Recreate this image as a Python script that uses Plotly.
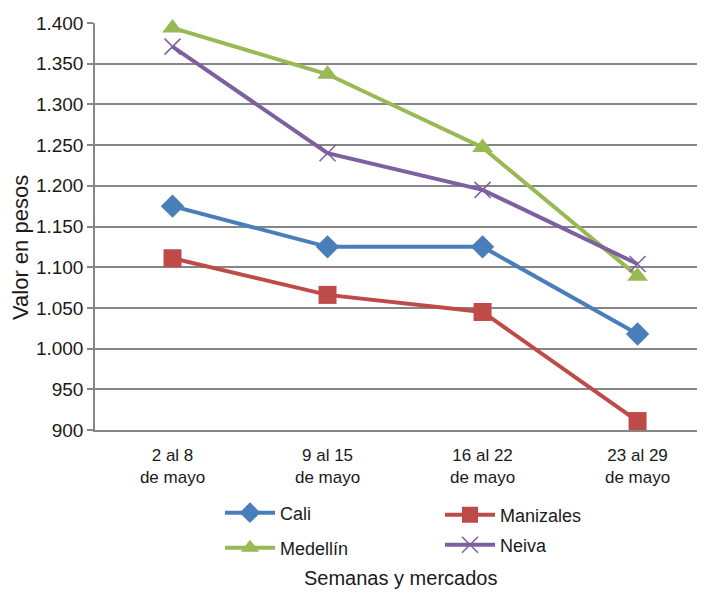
import plotly.graph_objects as go

categories = ["2 al 8<br>de mayo", "9 al 15<br>de mayo", "16 al 22<br>de mayo", "23 al 29<br>de mayo"]
cali = [1175, 1125, 1125, 1018]
manizales = [1111, 1066, 1045, 911]
medellin = [1394, 1337, 1247, 1089]
neiva = [1371, 1240, 1195, 1104]
y_ticks = [900, 950, 1000, 1050, 1100, 1150, 1200, 1250, 1300, 1350, 1400]

FONT = "Liberation Sans, Arial, sans-serif"
OFF = 8  # page body margin
W, H = 705 - OFF, 593 - OFF
L, R, T = 95 - OFF, 0, 23 - OFF
B = H - (430 - OFF)
pw = W - L - R
ph = H - T - B

def px_x(p):
    return (p - OFF - L) / pw

def px_y(p):
    return (H - B - (p - OFF)) / ph

fig = go.Figure()
series = [
    ("Cali", cali, "#4A7EBB", "diamond", 18, "legend", 220, 513),
    ("Manizales", manizales, "#BE4B48", "square", 18, "legend2", 440, 515),
    ("Medellín", medellin, "#98B954", "triangle-up", 18, "legend3", 220, 548),
    ("Neiva", neiva, "#7D60A0", "x-thin", 16, "legend4", 440, 545),
]
legends = {}
for name, vals, col, sym, sz, lg, lx, ly in series:
    marker = dict(symbol=sym, size=sz, color=col)
    if sym == "x-thin":
        marker["line"] = dict(color=col, width=1.5)
    fig.add_trace(go.Scatter(
        x=categories, y=vals, name=name, mode="lines+markers",
        line=dict(color=col, width=4), marker=marker,
        cliponaxis=False, legend=lg,
    ))
    legends[lg] = dict(x=px_x(lx), y=px_y(ly), xanchor="left", yanchor="middle",
                       font=dict(size=18), bgcolor="rgba(0,0,0,0)", itemwidth=50)

fig.update_layout(
    width=W, height=H,
    margin=dict(l=L, r=R, t=T, b=B, autoexpand=False),
    paper_bgcolor="white", plot_bgcolor="white",
    separators=",.",
    font=dict(family=FONT, size=17, color="#1a1a1a"),
    showlegend=True,
    **legends,
)
fig.update_xaxes(
    type="category", range=[-0.5, 3.435], automargin=False,
    showgrid=False, showline=True, linecolor="#868686", linewidth=1.5,
    ticks="", tickfont=dict(size=17), ticklabelstandoff=9,
)
fig.update_yaxes(
    range=[900, 1400], tickvals=y_ticks, tickformat=",d", automargin=False,
    showgrid=True, gridcolor="#868686", gridwidth=1.5,
    showline=True, linecolor="#868686", linewidth=1.5,
    ticks="outside", ticklen=6, tickcolor="#868686", tickwidth=1.5,
    tickfont=dict(size=19), zeroline=False,
)
fig.add_annotation(
    text="Valor en pesos", xref="paper", yref="paper", textangle=-90,
    x=px_x(20), y=px_y(248), xanchor="center", yanchor="middle",
    showarrow=False, font=dict(size=22),
)
fig.add_annotation(
    text="Semanas y mercados", xref="paper", yref="paper",
    x=px_x(400), y=px_y(578), xanchor="center", yanchor="middle",
    showarrow=False, font=dict(size=20),
)
fig.write_html("out.html")
